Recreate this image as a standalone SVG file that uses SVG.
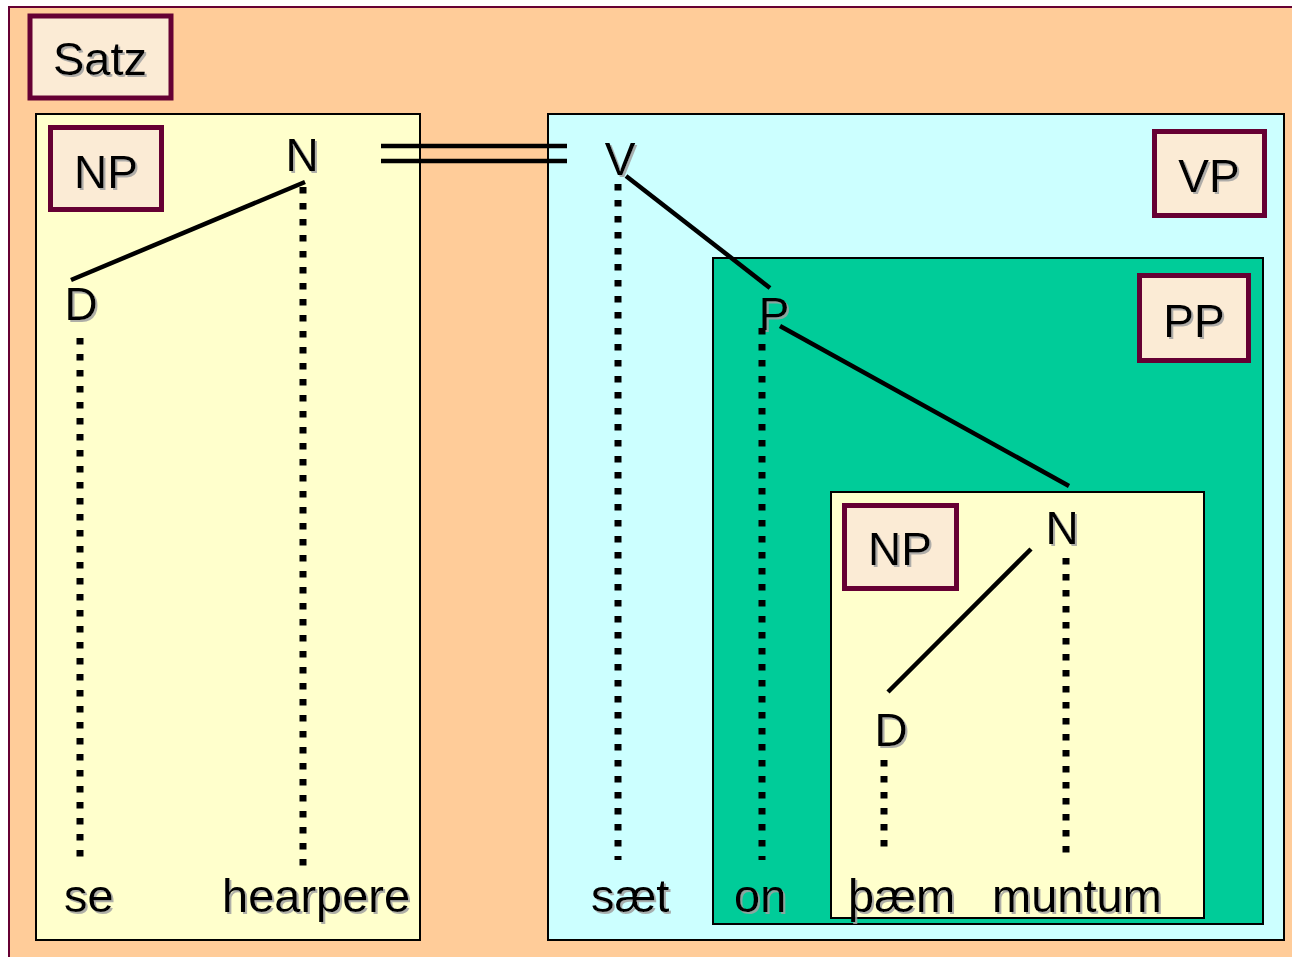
<svg xmlns="http://www.w3.org/2000/svg" width="1292" height="957" viewBox="0 0 1292 957">
<defs>
<filter id="sh" x="-20%" y="-20%" width="150%" height="150%">
<feDropShadow dx="2" dy="2" stdDeviation="0.6" flood-color="#a0a0a0" flood-opacity="0.85"/>
</filter>
<style>
.box{stroke:#000;stroke-width:2}
.lab{fill:#FBEBD5;stroke:#660033;stroke-width:5}
.t{font-family:"Liberation Sans",Arial,sans-serif;font-size:46px;fill:#000;filter:url(#sh)}
.w{font-family:"Liberation Sans",Arial,sans-serif;font-size:47px;fill:#000;filter:url(#sh)}
.c{text-anchor:middle}
.ln{stroke:#000;stroke-width:4.5;fill:none}
.dot{stroke:#000;stroke-width:7;fill:none;stroke-dasharray:6.5 9.5}
</style>
</defs>
<rect x="0" y="0" width="1292" height="957" fill="#fff"/>
<g id="satz">
<rect x="9" y="7" width="1290" height="960" fill="#FFCC99" stroke="#660033" stroke-width="2"/>
<rect class="lab" x="30" y="16" width="141" height="82"/>
<text class="w c" x="100" y="75">Satz</text>
</g>
<g id="np1">
<rect class="box" x="36" y="114" width="384" height="826" fill="#FFFFCC"/>
<rect class="lab" x="50.5" y="127.5" width="111" height="82"/>
<text class="t c" x="106" y="188">NP</text>
<text class="t c" x="302" y="171">N</text>
<text class="t c" x="81" y="320">D</text>
<text class="w" x="64" y="912">se</text>
<text class="w" x="222" y="912">hearpere</text>
</g>
<g id="vp">
<rect class="box" x="548" y="114" width="736" height="826" fill="#CCFFFF"/>
<rect class="lab" x="1154.5" y="131.5" width="110" height="84"/>
<text class="t c" x="1209" y="192">VP</text>
<text class="t c" x="620" y="175">V</text>
<text class="w" x="591" y="912">sæt</text>
</g>
<g id="pp">
<rect class="box" x="713" y="258" width="550" height="666" fill="#00CC99"/>
<rect class="lab" x="1139.5" y="275.5" width="109" height="85"/>
<text class="t c" x="1194" y="337">PP</text>
<text class="t c" x="774" y="330">P</text>
<text class="w" x="734" y="912">on</text>
</g>
<g id="np2">
<rect class="box" x="831" y="492" width="373" height="426" fill="#FFFFCC"/>
<rect class="lab" x="844.5" y="505.5" width="112" height="83"/>
<text class="t c" x="900" y="565">NP</text>
<text class="t c" x="1062" y="544">N</text>
<text class="t c" x="891" y="746">D</text>
</g>
<g id="connectors">
<line class="ln" x1="381" y1="146" x2="567" y2="146"/>
<line class="ln" x1="381" y1="161" x2="567" y2="161"/>
<line class="ln" x1="305" y1="182" x2="71" y2="280"/>
<line class="ln" x1="626" y1="176" x2="770" y2="288"/>
<line class="ln" x1="780" y1="326" x2="1069" y2="486"/>
<line class="ln" x1="1031" y1="549" x2="888" y2="692"/>
<line class="dot" x1="80" y1="338" x2="80" y2="860"/>
<line class="dot" x1="303" y1="187" x2="303" y2="866"/>
<line class="dot" x1="618" y1="184" x2="618" y2="860"/>
<line class="dot" x1="762" y1="328" x2="762" y2="860"/>
<line class="dot" x1="884" y1="760" x2="884" y2="850"/>
<line class="dot" x1="1066" y1="558" x2="1066" y2="854"/>
</g>
<g id="words">
<text class="w" x="848" y="912">þæm</text>
<text class="w" x="992" y="912">muntum</text>
</g>
</svg>
